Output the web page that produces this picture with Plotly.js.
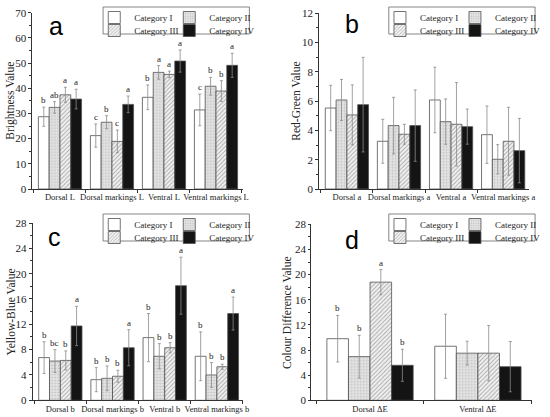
<!DOCTYPE html>
<html><head><meta charset="utf-8">
<script src="https://cdn.plot.ly/plotly-3.0.1.min.js"></script>
<style>html,body{margin:0;padding:0;background:#fff}#chart{width:550px;height:417px}</style>
</head><body><div id="chart"></div>
<script>
// ---------- data ----------
const seriesNames = ['Category I', 'Category II', 'Category III', 'Category IV'];

const catsA = ['Dorsal L', 'Dorsal markings L', 'Ventral L', 'Ventral markings L'];
const aI = [28.7, 21.2, 36.4, 31.4];      const aIerr = [3.8, 4.6, 4.9, 6.3];
const aII = [32.4, 26.5, 46.3, 40.8];     const aIIerr = [2.3, 2.6, 2.7, 3.5];
const aIII = [37.4, 18.9, 45.5, 38.9];    const aIIIerr = [3.0, 4.5, 1.3, 4.1];
const aIV = [35.7, 33.6, 50.8, 49.1];     const aIVerr = [3.9, 3.3, 4.4, 4.8];
const aIlet = ['b', 'c', 'b', 'c'];
const aIIlet = ['ab', 'b', 'a', 'b'];
const aIIIlet = ['a', 'c', 'a', 'b'];
const aIVlet = ['a', 'a', 'a', 'a'];

const catsB = ['Dorsal a', 'Dorsal markings a', 'Ventral a', 'Ventral markings a'];
const bI = [5.53, 3.26, 6.08, 3.71];      const bIerr = [1.55, 1.5, 2.24, 1.96];
const bII = [6.08, 4.33, 4.6, 2.03];      const bIIerr = [1.4, 1.93, 1.55, 1.0];
const bIII = [5.06, 3.74, 4.42, 3.26];    const bIIIerr = [2.05, 0.68, 2.85, 2.32];
const bIV = [5.76, 4.33, 4.26, 2.62];     const bIVerr = [3.23, 2.44, 1.2, 2.2];

const catsC = ['Dorsal b', 'Dorsal markings b', 'Ventral b', 'Ventral markings b'];
const cI = [6.74, 3.26, 9.9, 6.95];       const cIerr = [2.5, 1.9, 3.8, 3.85];
const cII = [6.2, 3.47, 6.95, 4.0];       const cIIerr = [1.8, 1.95, 2.0, 1.95];
const cIII = [6.3, 3.8, 8.3, 5.3];        const cIIIerr = [1.5, 0.95, 0.8, 0.4];
const cIV = [11.74, 8.3, 18.1, 13.7];     const cIVerr = [3.1, 2.85, 4.5, 2.6];
const cIlet = ['b', 'b', 'b', 'b'];
const cIIlet = ['bc', 'b', 'b', 'b'];
const cIIIlet = ['b', 'b', 'b', 'b'];
const cIVlet = ['a', 'a', 'a', 'a'];

const catsD = ['Dorsal \u0394E', 'Ventral \u0394E'];
const dI = [9.8, 8.6];      const dIerr = [3.7, 5.1];
const dII = [6.95, 7.5];    const dIIerr = [3.4, 1.9];
const dIII = [18.8, 7.5];   const dIIIerr = [2.0, 4.4];
const dIV = [5.57, 5.35];   const dIVerr = [2.55, 4.0];
const dIlet = ['b', ''];
const dIIlet = ['b', ''];
const dIIIlet = ['a', ''];
const dIVlet = ['b', ''];

const yTitles = ['Brightness Value', 'Red-Green Value', 'Yellow-Blue Value', 'Colour Difference Value'];
const panelTags = ['a', 'b', 'c', 'd'];

// ---------- styling ----------
const W = 550, H = 417;
const px = x => x / W, py = y => 1 - y / H;
const serif = 'Liberation Serif, Times New Roman, serif';
const styles = [
  {color: '#ffffff'},
  {color: '#e2e2e2', pattern: {shape: '.', bgcolor: '#e6e6e6', fgcolor: '#c2c2c2', size: 3, solidity: 0.3}},
  {color: '#eeeeee', pattern: {shape: '/', bgcolor: '#f1f1f1', fgcolor: '#a8a8a8', size: 3, solidity: 0.3}},
  {color: '#141414'}
];

const panels = [
  {x: 'x', y: 'y', cats: catsA, vals: [aI, aII, aIII, aIV], errs: [aIerr, aIIerr, aIIIerr, aIVerr],
   lets: [aIlet, aIIlet, aIIIlet, aIVlet], yr: [0, 70], dtick: 10,
   xd: [33, 247], yd: [189, 12.7], xr: [-0.53, 3.51], gw: 0.83, tagpos: [57, 26],
   titlex: 11, ticklen: 3, box: [96, 3]},
  {x: 'x2', y: 'y2', cats: catsB, vals: [bI, bII, bIII, bIV], errs: [bIerr, bIIerr, bIIIerr, bIVerr],
   lets: null, yr: [0, 12], dtick: 2,
   xd: [325, 539], yd: [189, 13.3], xr: [-0.534, 3.5], gw: 0.83, tagpos: [359, 24],
   titlex: 302, ticklen: 3, box: [387, 3]},
  {x: 'x3', y: 'y3', cats: catsC, vals: [cI, cII, cIII, cIV], errs: [cIerr, cIIerr, cIIIerr, cIVerr],
   lets: [cIlet, cIIlet, cIIIlet, cIVlet], yr: [0, 28], dtick: 4,
   xd: [33.3, 248], yd: [400.3, 223], xr: [-0.53, 3.51], gw: 0.83, tagpos: [55, 237],
   titlex: 11, ticklen: 3, box: [96, 210]},
  {x: 'x4', y: 'y4', cats: catsD, vals: [dI, dII, dIII, dIV], errs: [dIerr, dIIerr, dIIIerr, dIVerr],
   lets: [dIlet, dIIlet, dIIIlet, dIVlet], yr: [0, 28], dtick: 4,
   xd: [317, 541.7], yd: [400.3, 224.3], xr: [-0.545, 1.5], gw: 0.8, tagpos: [359, 240],
   titlex: 293, ticklen: 2, box: [387, 210]}
];

const data = [];
const annotations = [];
const shapes = [];
const layout = {
  width: W, height: H, margin: {l: 0, r: 0, t: 0, b: 0},
  paper_bgcolor: '#ffffff', plot_bgcolor: 'rgba(0,0,0,0)',
  barmode: 'overlay', showlegend: true,
  font: {family: serif, size: 10, color: '#222'},
  annotations: annotations, shapes: shapes
};

panels.forEach((p, pi) => {
  const sfx = pi === 0 ? '' : String(pi + 1);
  const bw = p.gw / 4;
  const lgRow1 = pi === 0 ? 'legend' : 'legend' + (2 * pi + 1);
  const lgRow2 = 'legend' + (2 * pi + 2);
  p.vals.forEach((v, k) => {
    const off = -p.gw / 2 + k * bw;
    data.push({
      type: 'bar', x: p.cats, y: v, name: seriesNames[k],
      xaxis: p.x, yaxis: p.y, offset: off, width: bw,
      legend: k < 2 ? lgRow1 : lgRow2,
      legendwidth: k % 2 === 0 ? 30 : 50,
      marker: Object.assign({line: {color: '#505050', width: 0.8}}, styles[k]),
      error_y: {type: 'data', array: p.errs[k], visible: true, color: '#8a8a8a', thickness: 0.8, width: 1.5},
      hoverinfo: 'skip'
    });
    if (p.lets) {
      v.forEach((val, i) => {
        if (!p.lets[k][i]) return;
        annotations.push({
          xref: p.x, yref: p.y, x: i + off + bw / 2, y: val + p.errs[k][i],
          text: p.lets[k][i], showarrow: false, yanchor: 'bottom', yshift: 0,
          font: {family: serif, size: 9, color: '#222'}
        });
      });
    }
  });
  layout['xaxis' + sfx] = {
    domain: [px(p.xd[0]), px(p.xd[1])], anchor: p.y, range: p.xr, type: 'category',
    showline: true, linecolor: '#333', linewidth: 1, ticks: 'outside', ticklen: 3, tickcolor: '#333',
    tickson: 'boundaries', tickangle: 0, showgrid: false, zeroline: false, fixedrange: true,
    tickfont: {family: serif, size: 8.5, color: '#222'}
  };
  layout['yaxis' + sfx] = {
    domain: [py(p.yd[0]), py(p.yd[1])], anchor: p.x, range: p.yr, dtick: p.dtick,
    showline: true, linecolor: '#333', linewidth: 1, ticks: 'outside', ticklen: p.ticklen, tickcolor: '#333',
    minor: {ticks: 'outside', ticklen: 2, dtick: p.dtick / 2, tickcolor: '#333'},
    showgrid: false, zeroline: false, fixedrange: true,
    tickfont: {family: serif, size: 11, color: '#222'}
  };
  // y-axis title
  annotations.push({
    xref: 'paper', yref: 'paper', x: px(p.titlex), y: py((p.yd[0] + p.yd[1]) / 2),
    text: yTitles[pi], textangle: -90, showarrow: false, xanchor: 'center', yanchor: 'middle',
    font: {family: serif, size: 11.5, color: '#222'}
  });
  // panel tag
  annotations.push({
    xref: 'paper', yref: 'paper', x: px(p.tagpos[0]), y: py(p.tagpos[1]),
    text: panelTags[pi], showarrow: false, xanchor: 'center', yanchor: 'middle',
    font: {family: 'Liberation Sans, Arial, sans-serif', size: 25, color: '#000'}
  });
  // legend frame
  shapes.push({
    type: 'rect', xref: 'paper', yref: 'paper', layer: 'above',
    x0: px(p.box[0] + 9), x1: px(p.box[0] + 158), y0: py(p.box[1] + 4), y1: py(p.box[1] + 31),
    fillcolor: '#ffffff', line: {color: '#666', width: 0.8}
  });
  const lg = {
    orientation: 'h', xanchor: 'left', yanchor: 'top', bgcolor: 'rgba(0,0,0,0)', borderwidth: 0,
    itemwidth: 30, font: {family: serif, size: 9, color: '#222'},
    itemclick: false, itemdoubleclick: false
  };
  layout[lgRow1] = Object.assign({}, lg, {x: px(p.box[0]), y: py(p.box[1])});
  layout[lgRow2] = Object.assign({}, lg, {x: px(p.box[0]), y: py(p.box[1] + 13)});
});

Plotly.newPlot('chart', data, layout, {staticPlot: true, displayModeBar: false});
</script>
</body></html>
